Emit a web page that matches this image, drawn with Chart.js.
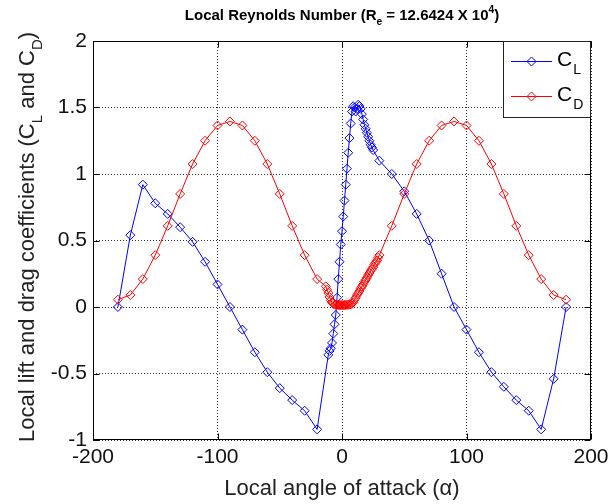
<!DOCTYPE html>
<html>
<head>
<meta charset="utf-8">
<script src="https://cdn.jsdelivr.net/npm/chart.js@4/dist/chart.umd.min.js"></script>
<style>
html,body{margin:0;padding:0;background:#fff;}
canvas{display:block;}
</style>
</head>
<body>
<canvas id="chart" width="608" height="504"></canvas>
<script>
// angle of attack (deg) and lift coefficient
const clAngles = [-180,-170,-160,-150,-140,-130,-120,-110,-100,-90,-80,-70,-60,-50,-40,-30,-20,
  -11,-10,-9,-8,-7,-6,-5,-4,-3,-2,-1,0,1,2,3,4,5,6,7,8,9,10,11,12,13,14,15,16,17,18,19,20,21,22,23,24,25,
  30,40,50,60,70,80,90,100,110,120,130,140,150,160,170,180];
const clValues = [0,0.54,0.92,0.78,0.70,0.60,0.49,0.34,0.17,0,-0.17,-0.34,-0.49,-0.61,-0.70,-0.78,-0.92,
  -0.36,-0.33,-0.31,-0.27,-0.20,-0.13,-0.06,0.07,0.21,0.34,0.47,0.57,0.68,0.80,0.92,1.04,1.16,1.27,1.38,1.47,1.51,
  1.50,1.47,1.49,1.52,1.51,1.49,1.45,1.41,1.37,1.34,1.31,1.28,1.25,1.22,1.20,1.18,
  1.10,1.00,0.87,0.70,0.50,0.25,0,-0.17,-0.34,-0.49,-0.60,-0.70,-0.78,-0.92,-0.54,0];

// angle of attack (deg) and drag coefficient
const cdAngles = [-180,-170,-160,-150,-140,-130,-120,-110,-100,-90,-80,-70,-60,-50,-40,-30,-20,
  -13,-12,-11,-10,-9,-8,-7,
  -6,-5,-4,-3,-2,-1,0,1,2,3,4,5,6,7,
  8,9,10,11,12,13,14,15,16,17,18,19,20,21,22,23,24,25,26,27,28,29,30,
  40,50,60,70,80,90,100,110,120,130,140,150,160,170,180];
const cdValues = [0.055,0.09,0.21,0.39,0.61,0.85,1.075,1.25,1.365,1.395,1.365,1.25,1.075,0.85,0.61,0.39,0.21,
  0.155,0.13,0.105,0.075,0.05,0.035,0.025,
  0.018,0.017,0.016,0.015,0.015,0.014,0.014,0.014,0.015,0.015,0.016,0.017,0.018,0.02,
  0.025,0.035,0.055,0.07,0.09,0.105,0.12,0.14,0.155,0.17,0.19,0.205,0.22,0.24,0.255,0.27,0.285,0.30,0.32,0.335,0.35,0.37,0.39,
  0.61,0.85,1.075,1.25,1.365,1.395,1.365,1.25,1.075,0.85,0.61,0.39,0.21,0.09,0.055];

const xTicks = [-200,-100,0,100,200];
const yTicks = [-1,-0.5,0,0.5,1,1.5,2];

const FONT = "'Liberation Sans', Arial, sans-serif";

// draws text pieces with sub (1) / super (2) script, centred on x, baseline y
function drawRich(ctx, segs, x, y, size, weight) {
  let total = 0;
  segs.forEach(s => {
    ctx.font = weight + ' ' + (s[1] ? size * 0.68 : size) + 'px ' + FONT;
    total += ctx.measureText(s[0]).width;
  });
  let cx = x - total / 2;
  ctx.textAlign = 'left';
  ctx.textBaseline = 'alphabetic';
  segs.forEach(s => {
    const sz = s[1] ? size * 0.68 : size;
    ctx.font = weight + ' ' + sz + 'px ' + FONT;
    const dy = s[1] === 1 ? size * 0.36 : (s[1] === 2 ? -size * 0.48 : 0);
    ctx.fillText(s[0], cx, y + dy);
    cx += ctx.measureText(s[0]).width;
  });
}

function diamond(ctx, x, y, r) {
  ctx.beginPath();
  ctx.moveTo(x, y - r);
  ctx.lineTo(x + r, y);
  ctx.lineTo(x, y + r);
  ctx.lineTo(x - r, y);
  ctx.closePath();
  ctx.stroke();
}

const decor = {
  id: 'decor',
  afterDraw(chart) {
    const ctx = chart.ctx;
    const a = chart.chartArea;
    const xs = chart.scales.x, ys = chart.scales.y;
    ctx.save();
    ctx.strokeStyle = '#000';
    ctx.lineWidth = 1;
    const L = Math.round(a.left) + 0.5, R = Math.round(a.right) - 0.5;
    const T = Math.round(a.top) + 0.5, B = Math.round(a.bottom) - 0.5;
    ctx.beginPath();
    xTicks.forEach(v => {
      const px = Math.round(xs.getPixelForValue(v)) + 0.5;
      ctx.moveTo(px, B); ctx.lineTo(px, B - 6);
      ctx.moveTo(px, T); ctx.lineTo(px, T + 6);
    });
    yTicks.forEach(v => {
      const py = Math.round(ys.getPixelForValue(v)) + 0.5;
      ctx.moveTo(L, py); ctx.lineTo(L + 6, py);
      ctx.moveTo(R, py); ctx.lineTo(R - 6, py);
    });
    ctx.stroke();
    ctx.strokeRect(L, T, R - L, B - T);

    // legend
    const lx = 503.5, ly = 41.5, lw = R - 503.5, lh = 76;
    ctx.fillStyle = '#fff';
    ctx.fillRect(lx, ly, lw, lh);
    ctx.strokeStyle = '#222';
    ctx.strokeRect(lx, ly, lw, lh);
    const items = [['L', '#0000ff', 61], ['D', '#ff0000', 96]];
    items.forEach(it => {
      ctx.strokeStyle = it[1];
      ctx.beginPath();
      ctx.moveTo(511, it[2] + 0.5); ctx.lineTo(552, it[2] + 0.5);
      ctx.stroke();
      diamond(ctx, 531.5, it[2] + 0.5, 4.5);
      ctx.fillStyle = '#000';
      ctx.textAlign = 'left';
      ctx.textBaseline = 'alphabetic';
      ctx.font = '21px ' + FONT;
      ctx.fillText('C', 557, it[2] + 5);
      const w = ctx.measureText('C').width;
      ctx.font = '14px ' + FONT;
      ctx.fillText(it[0], 557 + w + 1, it[2] + 13);
    });

    // titles
    ctx.fillStyle = '#000';
    const cx = (a.left + a.right) / 2;
    drawRich(ctx, [['Local Reynolds Number (R', 0], ['e', 1], [' = 12.6424 X 10', 0], ['4', 2], [')', 0]], cx, 20, 15, 'bold');
    ctx.fillStyle = '#222';
    drawRich(ctx, [['Local angle of attack (\u03b1)', 0]], cx, 495, 22, 'normal');
    ctx.translate(34, 237);
    ctx.rotate(-Math.PI / 2);
    drawRich(ctx, [['Local lift and drag coefficients (C', 0], ['L', 1], [' and C', 0], ['D', 1], [')', 0]], 0, 0, 22, 'normal');
    ctx.restore();
  }
};

new Chart(document.getElementById('chart'), {
  type: 'scatter',
  data: {
    datasets: [{
      label: 'CL',
      data: clAngles.map((v, i) => ({x: v, y: clValues[i]})),
      borderColor: '#0000ff',
      backgroundColor: 'rgba(0,0,0,0)',
      borderWidth: 1,
      showLine: true,
      tension: 0,
      pointStyle: 'rectRot',
      pointRadius: 4.5,
      pointBorderWidth: 1,
      pointBorderColor: '#0000ff',
      pointBackgroundColor: 'rgba(0,0,0,0)',
      order: 2
    }, {
      label: 'CD',
      data: cdAngles.map((v, i) => ({x: v, y: cdValues[i]})),
      borderColor: '#ff0000',
      backgroundColor: 'rgba(0,0,0,0)',
      borderWidth: 1,
      showLine: true,
      tension: 0,
      pointStyle: 'rectRot',
      pointRadius: 4.5,
      pointBorderWidth: 1,
      pointBorderColor: '#ff0000',
      pointBackgroundColor: 'rgba(0,0,0,0)',
      order: 1
    }]
  },
  options: {
    responsive: false,
    animation: false,
    devicePixelRatio: 1,
    layout: {padding: {left: 0, top: 41, right: 17, bottom: 0}},
    plugins: {legend: {display: false}, title: {display: false}, tooltip: {enabled: false}},
    scales: {
      x: {
        type: 'linear',
        min: -200, max: 200,
        afterBuildTicks: s => { s.ticks = xTicks.map(v => ({value: v})); },
        afterFit: s => { s.height = 64; s.paddingLeft = 0; s.paddingRight = 0; },
        grid: {color: '#333', lineWidth: 1, drawTicks: false},
        border: {display: false, dash: [1, 2]},
        ticks: {padding: 5, maxRotation: 0, autoSkip: false, color: '#111', font: {family: FONT, size: 21},
          callback: v => String(v)}
      },
      y: {
        type: 'linear',
        min: -1, max: 2,
        afterBuildTicks: s => { s.ticks = yTicks.map(v => ({value: v})); },
        afterFit: s => { s.width = 93; s.paddingTop = 0; s.paddingBottom = 0; },
        grid: {color: '#333', lineWidth: 1, drawTicks: false},
        border: {display: false, dash: [1, 2]},
        ticks: {padding: 6, color: '#111', font: {family: FONT, size: 21},
          callback: v => String(v)}
      }
    }
  },
  plugins: [decor]
});
</script>
</body>
</html>
